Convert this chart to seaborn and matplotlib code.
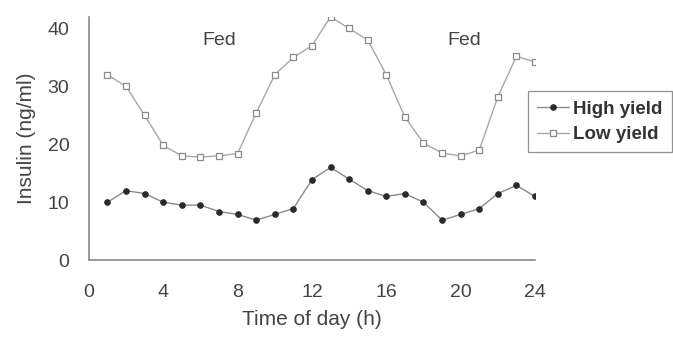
import matplotlib
matplotlib.use("Agg")
import matplotlib.pyplot as plt
import numpy as np
import pandas as pd
import seaborn as sns

hours = list(range(1, 25))
high_yield = [10, 12, 11.5, 10, 9.5, 9.5, 8.4, 7.9, 6.9, 7.9, 8.9, 13.9,
              16, 14, 12, 11, 11.5, 10, 6.9, 7.9, 8.9, 11.5, 12.9, 11]
low_yield = [32, 30, 25, 19.8, 18, 17.8, 18, 18.4, 25.4, 32, 35, 37,
             42, 40, 38, 32, 24.7, 20.2, 18.5, 18, 19, 28.2, 35.2, 34.2]
x_ticks = [0, 4, 8, 12, 16, 20, 24]
y_ticks = [0, 10, 20, 30, 40]
fed_hours = [7, 20.2]
fed_level = 38

df = pd.DataFrame({
    "hour": hours * 2,
    "insulin": high_yield + low_yield,
    "group": ["High yield"] * len(hours) + ["Low yield"] * len(hours),
})

sns.set_theme(style="white")
plt.rcParams["font.family"] = ["Liberation Sans", "DejaVu Sans"]

fig = plt.figure(figsize=(6.73, 3.37), dpi=100)
ax = fig.add_axes([0.132, 0.228, 0.663, 0.722])

sns.lineplot(data=df[df.group == "High yield"], x="hour", y="insulin", ax=ax,
             color="#8a8a8a", lw=1.0, marker="o", markersize=4,
             markerfacecolor="#2a2a2a", markeredgecolor="#2a2a2a",
             label="High yield")
sns.lineplot(data=df[df.group == "Low yield"], x="hour", y="insulin", ax=ax,
             color="#a8a8a8", lw=1.0, marker="s", markersize=4.5,
             markerfacecolor="white", markeredgecolor="#8a8a8a",
             markeredgewidth=0.9, label="Low yield")

for h in fed_hours:
    ax.text(h, fed_level, "Fed", ha="center", va="center",
            fontsize=14, color="#444444")

ax.set_xlim(0, 24)
ax.set_ylim(0, 42)
ax.set_xticks(x_ticks)
ax.set_yticks(y_ticks)
ax.tick_params(axis="x", direction="in", length=3, color="#999999",
               labelsize=14, labelcolor="#444444", pad=17)
ax.tick_params(axis="y", direction="out", length=3, color="#999999",
               labelsize=14, labelcolor="#444444", pad=11)
ax.set_xlabel("Time of day (h)", fontsize=15, color="#444444", labelpad=7)
ax.set_ylabel("Insulin (ng/ml)", fontsize=15, color="#444444", labelpad=8)

for side in ["top", "right"]:
    ax.spines[side].set_visible(False)
for side in ["left", "bottom"]:
    ax.spines[side].set_color("#8a8a8a")
    ax.spines[side].set_linewidth(1.2)

leg = ax.legend(loc="upper left", bbox_to_anchor=(0.984, 0.695),
                borderaxespad=0, frameon=True, fancybox=False, borderpad=0.5,
                handlelength=1.7, handletextpad=0.2, labelspacing=0.45,
                prop={"weight": "bold", "size": 13.5})
leg.get_frame().set_edgecolor("#777777")
leg.get_frame().set_linewidth(0.9)
for t in leg.get_texts():
    t.set_color("#333333")

fig.savefig("out.png", dpi=100)
